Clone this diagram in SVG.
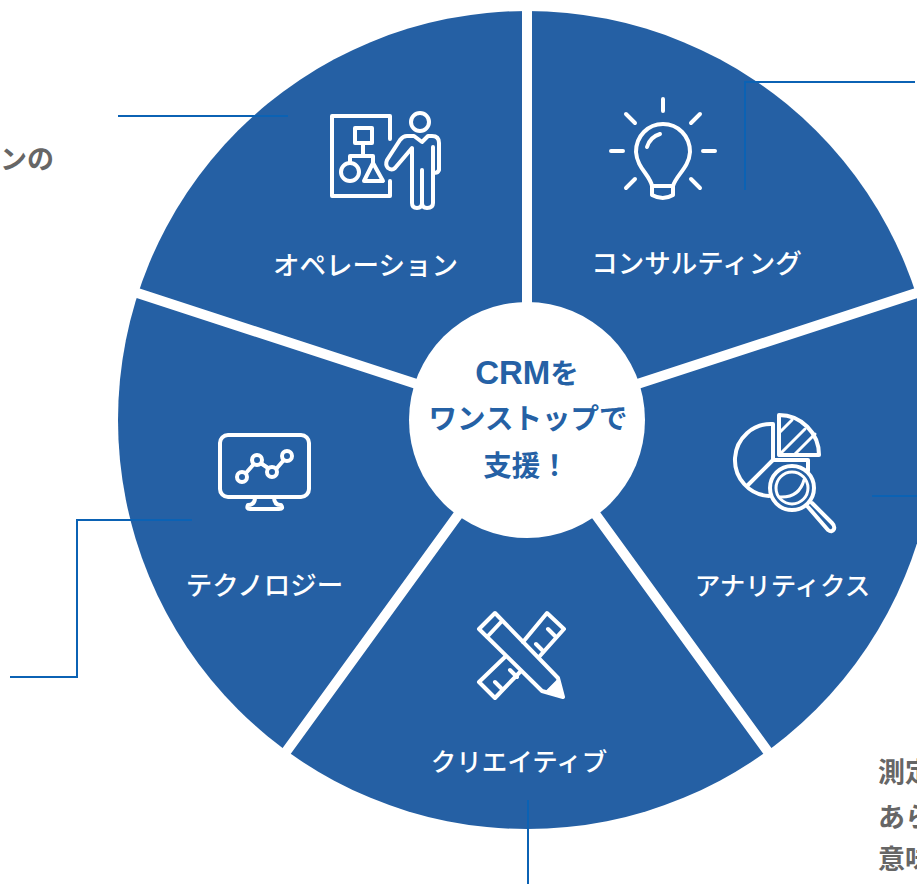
<svg xmlns="http://www.w3.org/2000/svg" width="917" height="884" viewBox="0 0 917 884">
<style>
text{font-family:"Noto Sans CJK JP","Noto Sans",sans-serif}
.l{fill:#fff;font-size:26.500px;font-weight:500;text-anchor:middle}
.s{font-size:25.500px}
.c{fill:#2561a5;font-size:28.500px;font-weight:700;text-anchor:middle}
.g{fill:#666;font-size:27px;font-weight:700}
.i{fill:none;stroke:#fff;stroke-width:4;stroke-linecap:round;stroke-linejoin:round}
.t{stroke-width:3}
.w{fill:none;stroke:#fff;stroke-width:10}
.k{fill:none;stroke:#0b62b4;stroke-width:2}
</style>
<rect width="917" height="884" fill="#fff"/>
<g id="wheel">
<circle cx="527" cy="420" r="409" fill="#2560a4"/>
<path class="w" d="M527 420V0M527 420L935 287M527 420L779 767M527 420L275 767M527 420L119 287"/>
<circle cx="527" cy="420" r="118" fill="#fff"/>
</g>
<g id="connectors">
<path class="k" d="M118 116H288"/>
<path class="k" d="M915 82H745V190"/>
<path class="k" d="M872 496H917"/>
<path class="k" d="M192 520H77V677H10"/>
<path class="k" d="M528 800V884"/>
</g>
<g id="center"><text class="c" x="527" y="384"><tspan font-family="Liberation Sans" font-size="33">CRM</tspan>を</text><text class="c" x="528" y="429">ワンストップで</text><text class="c" x="526" y="476">支援！</text></g>
<g id="operation">
<path class="i" d="M390 139V116H332V196H390V181"/>
<rect class="i" x="355" y="128" width="17" height="15"/>
<path class="i" d="M363 143V156M350 163V156H373V163"/>
<circle class="i" cx="350" cy="172" r="9"/>
<path class="i" d="M373 163L383 181H364Z"/>
<circle class="i" cx="420" cy="122" r="9"/>
<path class="i" d="M422 142L414 136H407Q403 136 400 140L387 160Q385 165 388 168Q392 171 395 168L412 148V203Q412 208 417 208Q422 208 422 203V170V203Q422 208 427 208Q433 208 433 203V147V172Q437 174 439 170V143Q439 136 432 136H428Z"/>
<text class="l" x="365.500" y="275">オペレーション</text>
</g>
<g id="consulting">
<path class="i" d="M663 99V111M626 114L635 123M700 114L691 123M611 151H623M703 151H715M635 179L626 188M691 179L700 188"/>
<path class="i" d="M652 186C650 175 637 168 636 152C636 136 648 124 663 124C678 124 690 136 690 152C689 168 676 175 673 186V195Q663 201 652 195ZM652 186H673"/>
<path class="i" d="M647 147Q650 137 660 134"/>
<text class="l" x="696.500" y="273">コンサルティング</text>
</g>
<g id="analytics">
<path class="i" d="M779 415A40 40 0 0 1 819 455H779Z"/>
<path class="i t" d="M779 433L792 420M779 455L805 429M794 455L815 434"/>
<path class="i" d="M773 424A36 36 0 0 0 769 496M773 424V460L748 485M773 460H808V471"/>
<circle class="i" cx="792" cy="488" r="22"/>
<circle class="i t" cx="792" cy="488" r="16"/>
<path class="i t" d="M780 497Q799 498 804 480"/>
<path class="i" d="M808 507L828 530Q832 533 834 529Q835 526 832 523L812 503"/>
<text class="l s" x="782.500" y="595">アナリティクス</text>
</g>
<g id="creative">
<path class="i" d="M505 657L479 682L495 698L520 672M523 642L547 613L564 629L539 657"/>
<path class="i" d="M495 682L501 688M510 670L517 677M536 644L542 650M548 629L555 636"/>
<path class="i" d="M479 629L495 613L558 678L563 697L542 691ZM487 637L502 621"/>
<path d="M563 697L558 680L546 692Z" fill="#fff" stroke="#fff" stroke-width="2" stroke-linejoin="round"/>
<text class="l s" x="519" y="771">クリエイティブ</text>
</g>
<g id="technology">
<rect class="i" x="220" y="435" width="89" height="62" rx="8"/>
<path class="i" d="M255 497Q255 505 248 505Q246 509 250 509H279Q284 509 281 505Q274 505 274 497"/>
<path class="i" d="M246 473L253 465M262 464L268 468M277 468L283 461"/>
<circle class="i" cx="242" cy="477" r="5"/><circle class="i" cx="257" cy="460" r="5"/><circle class="i" cx="272" cy="472" r="5"/><circle class="i" cx="287" cy="456" r="5"/>
<text class="l" x="264.500" y="595">テクノロジー</text>
</g>
<g id="notes">
<text class="g" x="0" y="169">ンの</text>
<text class="g" x="878" y="782">測定</text>
<text class="g" x="878" y="827">あら</text>
<text class="g" x="878" y="869">意味</text>
</g>
</svg>
